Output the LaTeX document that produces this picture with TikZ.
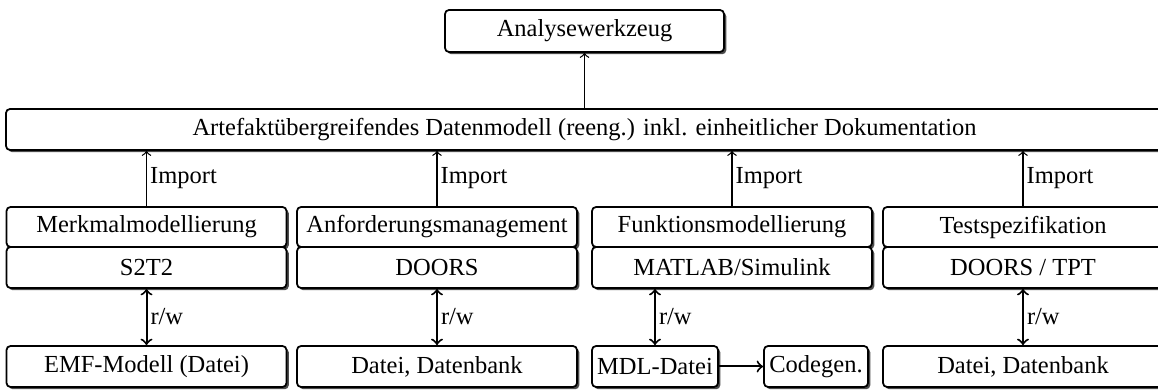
\documentclass[tikz,border=0pt]{standalone}
\usepackage{fontspec}
\setmainfont{Liberation Serif}
\usepackage{tikz}
\usetikzlibrary{arrows,shadows}
\tikzset{box/.style={draw, rectangle, rounded corners=1.6pt, line width=0.7pt, fill=white,
  drop shadow={shadow xshift=0.9pt, shadow yshift=-0.9pt, fill=black!70, opacity=1},
  inner sep=2pt, minimum height=16.4pt, font=\fontsize{9.8}{12}\selectfont}}
\tikzset{lab/.style={font=\fontsize{9.8}{12}\selectfont, inner sep=1.2pt}}
\tikzset{import/.style={->, line width=0.5pt}}
\tikzset{rw/.style={<->, line width=0.8pt}}

\begin{document}
\begin{tikzpicture}[x=0.4pt, y=-0.4pt]
\useasboundingbox (0,0) rectangle (1158,390);

%%Help Lines
%\draw [step=50, black!30, thin] (0,0) grid (1158,390);

\node[box, minimum width=111.6pt, minimum height=16.8pt] (ana) at (584.5,31) {Analysewerkzeug};
\node[box, minimum width=462.8pt] (dm) at (584.5,129.5) {Artefaktübergreifendes Datenmodell (reeng.) inkl. einheitlicher Dokumentation};

\node[box, minimum width=112pt, minimum height=16pt] (merkmal) at (146.5,227) {Merkmalmodellierung};
\node[box, minimum width=112pt, minimum height=16pt] (anford) at (437,227) {Anforderungsmanagement};
\node[box, minimum width=112pt, minimum height=16pt] (funkt) at (732,227) {Funktionsmodellierung};
\node[box, minimum width=112pt, minimum height=16pt] (test) at (1023,227) {Testspezifikation};

\node[box, minimum width=112pt] (s2t2) at (146.5,267.5) {S2T2};
\node[box, minimum width=112pt] (doors) at (437,267.5) {DOORS};
\node[box, minimum width=112pt] (matlab) at (732,267.5) {MATLAB/Simulink};
\node[box, minimum width=112pt] (tpt) at (1023,267.5) {DOORS / TPT};

\node[box, minimum width=112pt] (emf) at (146.5,366.5) {EMF-Modell (Datei)};
\node[box, minimum width=112pt] (datei) at (437,366.5) {Datei, Datenbank};
\node[box, minimum width=50.4pt] (mdl) at (655,366.5) {MDL-Datei};
\node[box, minimum width=41.6pt] (codegen) at (816,366.5) {Codegen.};
\node[box, minimum width=112pt] (dateitest) at (1023,366.5) {Datei, Datenbank};

\draw[import] (dm.north -| ana.south) -- (ana.south);
\foreach \i in {merkmal,anford,funkt,test}{
\draw[import] (\i.north) -- (\i.north |- dm.south) node[lab, midway, right] {Import};
}
\foreach \a/\b in {s2t2/emf,doors/datei,tpt/dateitest}{
\draw[rw] (\a.south) -- (\b.north) node[lab, midway, right] {r/w};
}
\draw[rw] (matlab.south -| mdl.north) -- (mdl.north) node[lab, midway, right] {r/w};
\draw[->, line width=0.8pt] (mdl) -- (codegen);

\end{tikzpicture}
\end{document}
